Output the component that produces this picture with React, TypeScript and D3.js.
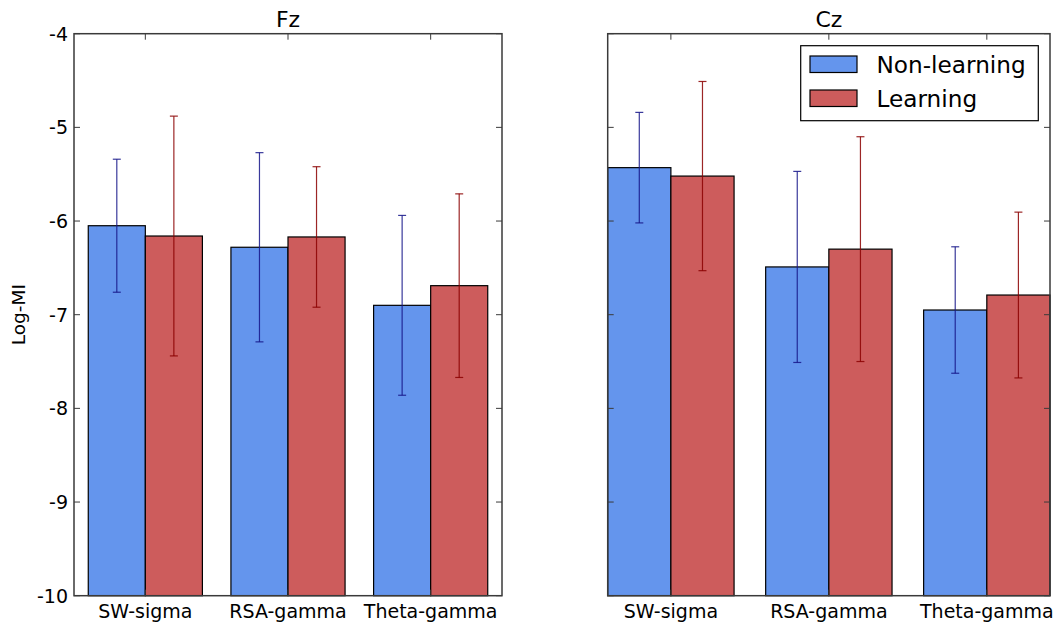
import React from "react";
import * as d3 from "d3";

const categories = ["SW-sigma", "RSA-gamma", "Theta-gamma"];
const seriesNames = ["Non-learning", "Learning"];
const yTicks = [-4, -5, -6, -7, -8, -9, -10];

// Fz electrode
const fzNonLearning = [-6.05, -6.28, -6.9];
const fzNonLearningErr = [0.71, 1.01, 0.96];
const fzLearning = [-6.16, -6.17, -6.69];
const fzLearningErr = [1.28, 0.75, 0.98];

// Cz electrode
const czNonLearning = [-5.43, -6.49, -6.95];
const czNonLearningErr = [0.59, 1.02, 0.675];
const czLearning = [-5.52, -6.3, -6.79];
const czLearningErr = [1.01, 1.2, 0.885];

const FONT = "DejaVu Sans, Bitstream Vera Sans, sans-serif";
const FILL = ["#6495ED", "#CD5C5C"];
const ERR = ["#16168a", "#8b0000"];
const FRAME = "#3a3a3a";

type Panel = {
  title: string;
  means: number[][];
  errs: number[][];
  xDomain: [number, number];
  xRange: [number, number];
  showYLabels: boolean;
  showLegend: boolean;
};

const panels: Panel[] = [
  {
    title: "Fz",
    means: [fzNonLearning, fzLearning],
    errs: [fzNonLearningErr, fzLearningErr],
    xDomain: [-0.5, 2.5],
    xRange: [74, 502],
    showYLabels: true,
    showLegend: false,
  },
  {
    title: "Cz",
    means: [czNonLearning, czLearning],
    errs: [czNonLearningErr, czLearningErr],
    xDomain: [-0.4, 2.4],
    xRange: [607.7, 1050],
    showYLabels: false,
    showLegend: true,
  },
];

const BAR_W = 0.4;
const y = d3.scaleLinear().domain([-10, -4]).range([595.7, 33.7]);

function PanelView({ p }: { p: Panel }) {
  const x = d3.scaleLinear().domain(p.xDomain).range(p.xRange);
  const [x0, x1] = p.xRange;
  const yTop = y(-4);
  const yBot = y(-10);
  const tickLen = 6;
  const cap = 4;
  const idx = d3.range(categories.length);

  return (
    <g>
      {/* bars */}
      {p.means.map((vals, s) =>
        vals.map((v, i) => {
          const left = x(i - BAR_W + s * BAR_W);
          const right = x(i + s * BAR_W);
          return (
            <rect
              key={`b${s}-${i}`}
              x={left}
              y={y(v)}
              width={right - left}
              height={yBot - y(v)}
              fill={FILL[s]}
              stroke="#000"
              strokeWidth={1.2}
            />
          );
        })
      )}
      {/* error bars */}
      {p.means.map((vals, s) =>
        vals.map((v, i) => {
          const cx = x(i - BAR_W / 2 + s * BAR_W);
          const hi = y(v + p.errs[s][i]);
          const lo = y(v - p.errs[s][i]);
          return (
            <g key={`e${s}-${i}`} stroke={ERR[s]} strokeWidth={1.2} strokeOpacity={0.85}>
              <line x1={cx} x2={cx} y1={hi} y2={lo} />
              <line x1={cx - cap} x2={cx + cap} y1={hi} y2={hi} />
              <line x1={cx - cap} x2={cx + cap} y1={lo} y2={lo} />
            </g>
          );
        })
      )}
      {/* y ticks, inward on both sides */}
      {yTicks.map((t) => (
        <g key={`yt${t}`} stroke={FRAME} strokeWidth={1}>
          <line x1={x0} x2={x0 + tickLen} y1={y(t)} y2={y(t)} />
          <line x1={x1} x2={x1 - tickLen} y1={y(t)} y2={y(t)} />
        </g>
      ))}
      {/* x ticks, inward top and bottom */}
      {idx.map((i) => (
        <g key={`xt${i}`} stroke={FRAME} strokeWidth={1}>
          <line x1={x(i)} x2={x(i)} y1={yTop} y2={yTop + tickLen} />
          <line x1={x(i)} x2={x(i)} y1={yBot} y2={yBot - tickLen} />
        </g>
      ))}
      {/* frame */}
      <rect
        x={x0}
        y={yTop}
        width={x1 - x0}
        height={yBot - yTop}
        fill="none"
        stroke={FRAME}
        strokeWidth={1.5}
      />
      {/* y tick labels */}
      {p.showYLabels &&
        yTicks.map((t) => (
          <text
            key={`yl${t}`}
            x={x0 - 6}
            y={y(t)}
            dy="0.36em"
            textAnchor="end"
            fontFamily={FONT}
            fontSize={19}
            fill="#000"
          >
            {String(t)}
          </text>
        ))}
      {/* x tick labels */}
      {categories.map((c, i) => (
        <text
          key={`xl${i}`}
          x={x(i)}
          y={618}
          textAnchor="middle"
          fontFamily={FONT}
          fontSize={19}
          fill="#000"
        >
          {c}
        </text>
      ))}
      {/* title */}
      <text
        x={(x0 + x1) / 2}
        y={26.5}
        textAnchor="middle"
        fontFamily={FONT}
        fontSize={22}
        fill="#000"
      >
        {p.title}
      </text>
      {p.showLegend && (
        <g>
          <rect x={800.7} y={45.7} width={237.6} height={75} fill="#fff" stroke="#000" strokeWidth={1.2} />
          {seriesNames.map((n, s) => (
            <g key={n}>
              <rect
                x={810}
                y={56 + s * 34}
                width={47}
                height={16.5}
                fill={FILL[s]}
                stroke="#000"
                strokeWidth={1.2}
              />
              <text x={876.5} y={72.7 + s * 34} fontFamily={FONT} fontSize={23.2} fill="#000">
                {n}
              </text>
            </g>
          ))}
        </g>
      )}
    </g>
  );
}

export default function App() {
  return (
    <svg
      width={1060}
      height={628}
      viewBox="0 0 1060 628"
      style={{ position: "absolute", left: 0, top: 0, background: "#fff" }}
    >
      <rect x={0} y={0} width={1060} height={628} fill="#fff" />
      {panels.map((p) => (
        <PanelView key={p.title} p={p} />
      ))}
      <text
        transform={`translate(24.5, ${(y(-4) + y(-10)) / 2}) rotate(-90)`}
        textAnchor="middle"
        fontFamily={FONT}
        fontSize={18.5}
        fill="#000"
      >
        Log-MI
      </text>
    </svg>
  );
}
